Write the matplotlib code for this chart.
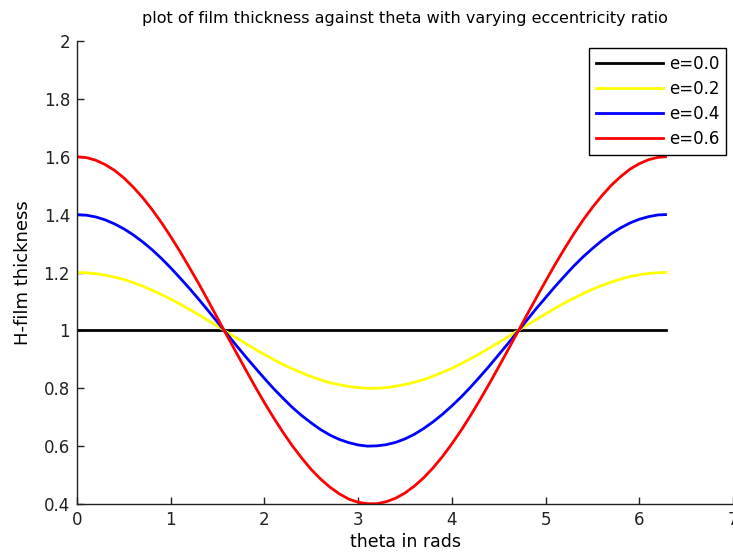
import matplotlib
matplotlib.use("Agg")
import matplotlib.pyplot as plt

theta = [0.0, 0.1, 0.2, 0.3, 0.4, 0.5, 0.6, 0.7, 0.8, 0.9,
         1.0, 1.1, 1.2, 1.3, 1.4, 1.5, 1.6, 1.7, 1.8, 1.9,
         2.0, 2.1, 2.2, 2.3, 2.4, 2.5, 2.6, 2.7, 2.8, 2.9,
         3.0, 3.1, 3.2, 3.3, 3.4, 3.5, 3.6, 3.7, 3.8, 3.9,
         4.0, 4.1, 4.2, 4.3, 4.4, 4.5, 4.6, 4.7, 4.8, 4.9,
         5.0, 5.1, 5.2, 5.3, 5.4, 5.5, 5.6, 5.7, 5.8, 5.9,
         6.0, 6.1, 6.2, 6.28]
h_e00 = [1.0] * 64
h_e02 = [1.200, 1.199, 1.196, 1.191, 1.184, 1.176, 1.165, 1.153, 1.139, 1.124,
         1.108, 1.091, 1.072, 1.054, 1.034, 1.014, 0.994, 0.974, 0.955, 0.935,
         0.917, 0.899, 0.882, 0.867, 0.853, 0.840, 0.829, 0.819, 0.812, 0.806,
         0.802, 0.800, 0.800, 0.802, 0.807, 0.813, 0.821, 0.830, 0.842, 0.855,
         0.869, 0.885, 0.902, 0.920, 0.939, 0.958, 0.978, 0.998, 1.018, 1.037,
         1.057, 1.076, 1.094, 1.111, 1.127, 1.142, 1.155, 1.167, 1.177, 1.186,
         1.192, 1.197, 1.199, 1.200]
h_e04 = [1.400, 1.398, 1.392, 1.382, 1.368, 1.351, 1.330, 1.306, 1.279, 1.249,
         1.216, 1.181, 1.145, 1.107, 1.068, 1.028, 0.988, 0.948, 0.909, 0.871,
         0.834, 0.798, 0.765, 0.733, 0.705, 0.680, 0.657, 0.638, 0.623, 0.612,
         0.604, 0.600, 0.601, 0.605, 0.613, 0.625, 0.641, 0.661, 0.684, 0.710,
         0.739, 0.770, 0.804, 0.840, 0.877, 0.916, 0.955, 0.995, 1.035, 1.075,
         1.113, 1.151, 1.187, 1.222, 1.254, 1.283, 1.310, 1.334, 1.354, 1.371,
         1.384, 1.393, 1.399, 1.400]
h_e06 = [1.600, 1.597, 1.588, 1.573, 1.553, 1.527, 1.495, 1.459, 1.418, 1.373,
         1.324, 1.272, 1.217, 1.161, 1.102, 1.042, 0.982, 0.923, 0.864, 0.806,
         0.750, 0.697, 0.647, 0.600, 0.558, 0.519, 0.486, 0.458, 0.435, 0.417,
         0.406, 0.401, 0.401, 0.408, 0.420, 0.438, 0.462, 0.491, 0.525, 0.564,
         0.608, 0.655, 0.706, 0.760, 0.816, 0.874, 0.933, 0.993, 1.053, 1.112,
         1.170, 1.227, 1.281, 1.333, 1.381, 1.425, 1.465, 1.501, 1.531, 1.557,
         1.576, 1.590, 1.598, 1.600]
labels = ["e=0.0", "e=0.2", "e=0.4", "e=0.6"]
colors = ["black", "yellow", "blue", "red"]
xticks = [0, 1, 2, 3, 4, 5, 6, 7]
yticks = [0.4, 0.6, 0.8, 1.0, 1.2, 1.4, 1.6, 1.8, 2.0]
yticklabels = ["0.4", "0.6", "0.8", "1", "1.2", "1.4", "1.6", "1.8", "2"]

plt.rcParams["font.family"] = ["DejaVu Sans"]
fig = plt.figure(figsize=(7.33, 5.52), dpi=100)
ax = fig.add_axes([77 / 733, 1 - 504 / 552, 1 - 77 / 733, (504 - 41) / 552])

for h, lab, c in zip([h_e00, h_e02, h_e04, h_e06], labels, colors):
    ax.plot(theta, h, color=c, lw=2, label=lab)

ax.set_xlim(0, 7)
ax.set_ylim(0.4, 2.0)
ax.set_xticks(xticks)
ax.set_xticklabels([str(t) for t in xticks])
ax.set_yticks(yticks)
ax.set_yticklabels(yticklabels)
ax.tick_params(direction="in", length=5, labelsize=12, width=1, colors="#222222")
ax.tick_params(axis="x", pad=5)
ax.tick_params(axis="y", pad=5)
ax.spines["top"].set_visible(False)
ax.spines["right"].set_visible(False)
for s in ["left", "bottom"]:
    ax.spines[s].set_linewidth(1)
    ax.spines[s].set_color("#222222")
ax.set_xlabel("theta in rads", fontsize=12.5, labelpad=3)
ax.set_ylabel("H-film thickness", fontsize=13, labelpad=8)
ax.set_title("plot of film thickness against theta with varying eccentricity ratio",
             fontsize=11.5, pad=13)

leg = ax.legend(loc="upper right", bbox_to_anchor=(0.99, 0.985), fontsize=12,
                fancybox=False, framealpha=1, edgecolor="black", handlelength=4.0,
                borderpad=0.42, labelspacing=0.42, handletextpad=0.35,
                borderaxespad=0)
leg.get_frame().set_linewidth(1)

fig.savefig("out.png", dpi=100)
